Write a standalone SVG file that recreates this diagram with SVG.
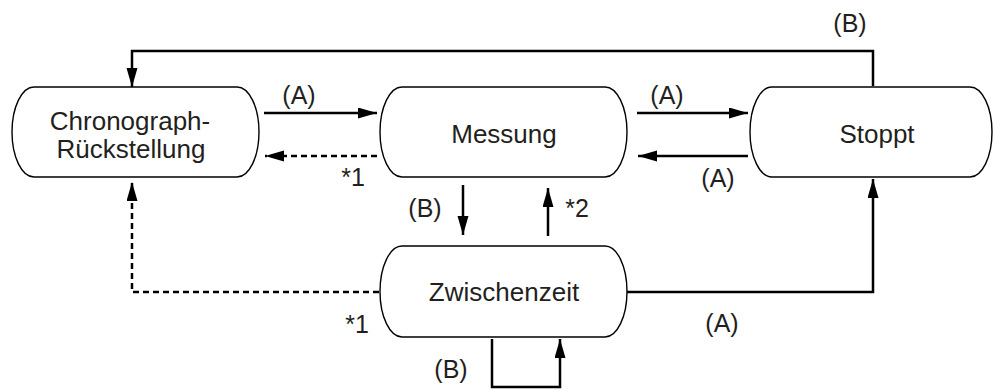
<svg xmlns="http://www.w3.org/2000/svg" width="993" height="390" viewBox="0 0 993 390">
<style>
.node{fill:#fff;stroke:#000;stroke-width:1.4}
.nt{font-family:"Liberation Sans",Arial,sans-serif;font-size:26px;fill:#231f20;text-anchor:middle}
.lb{font-family:"Liberation Sans",Arial,sans-serif;font-size:25px;fill:#231f20;text-anchor:middle}
.c{fill:none;stroke:#000;stroke-width:2.5;marker-end:url(#ah)}
.d{stroke-dasharray:6 4}
</style>
<defs>
<marker id="ah" markerUnits="userSpaceOnUse" markerWidth="21" markerHeight="12" refX="19" refY="5.5" orient="auto">
<path d="M0,0 L19,5.5 L0,11 Z" fill="#000"/>
</marker>
</defs>
<rect width="993" height="390" fill="#fff"/>
<g id="chrono">
<path class="node" d="M34,87 H237 A22,45 0 0 1 237,177 H34 A22,45 0 0 1 34,87 Z"/>
<text class="nt" x="130" y="130">Chronograph-</text>
<text class="nt" x="131" y="158">Rückstellung</text>
</g>
<g id="messung">
<path class="node" d="M402,87 H605 A22,45 0 0 1 605,177 H402 A22,45 0 0 1 402,87 Z"/>
<text class="nt" x="504" y="143">Messung</text>
</g>
<g id="stoppt">
<path class="node" d="M772,87 H970 A22,45 0 0 1 970,177 H772 A22,45 0 0 1 772,87 Z"/>
<text class="nt" x="877" y="143">Stoppt</text>
</g>
<g id="zwischenzeit">
<path class="node" d="M402,246 H605 A22,45.5 0 0 1 605,337 H402 A22,45.5 0 0 1 402,246 Z"/>
<text class="nt" x="504" y="301">Zwischenzeit</text>
</g>
<g id="connectors">
<path class="c" d="M264,113 H377"/>
<path class="c d" d="M377,156 H265"/>
<path class="c" d="M637,113 H748"/>
<path class="c" d="M748,156 H638"/>
<path class="c" d="M873,86 V51 H132 V87"/>
<path class="c" d="M463,185 V235"/>
<path class="c" d="M548,236 V188"/>
<path class="c d" d="M379,292 H132 V182"/>
<path class="c" d="M627,292 H873 V179"/>
<path class="c" d="M492,339 V387 H560 V339"/>
</g>
<g id="labels">
<text class="lb" x="299" y="104">(A)</text>
<text class="lb" x="353" y="186">*1</text>
<text class="lb" x="667" y="104">(A)</text>
<text class="lb" x="718" y="187">(A)</text>
<text class="lb" x="850" y="32">(B)</text>
<text class="lb" x="425" y="217">(B)</text>
<text class="lb" x="577" y="217">*2</text>
<text class="lb" x="357" y="333">*1</text>
<text class="lb" x="722" y="332">(A)</text>
<text class="lb" x="451" y="378">(B)</text>
</g>
</svg>
